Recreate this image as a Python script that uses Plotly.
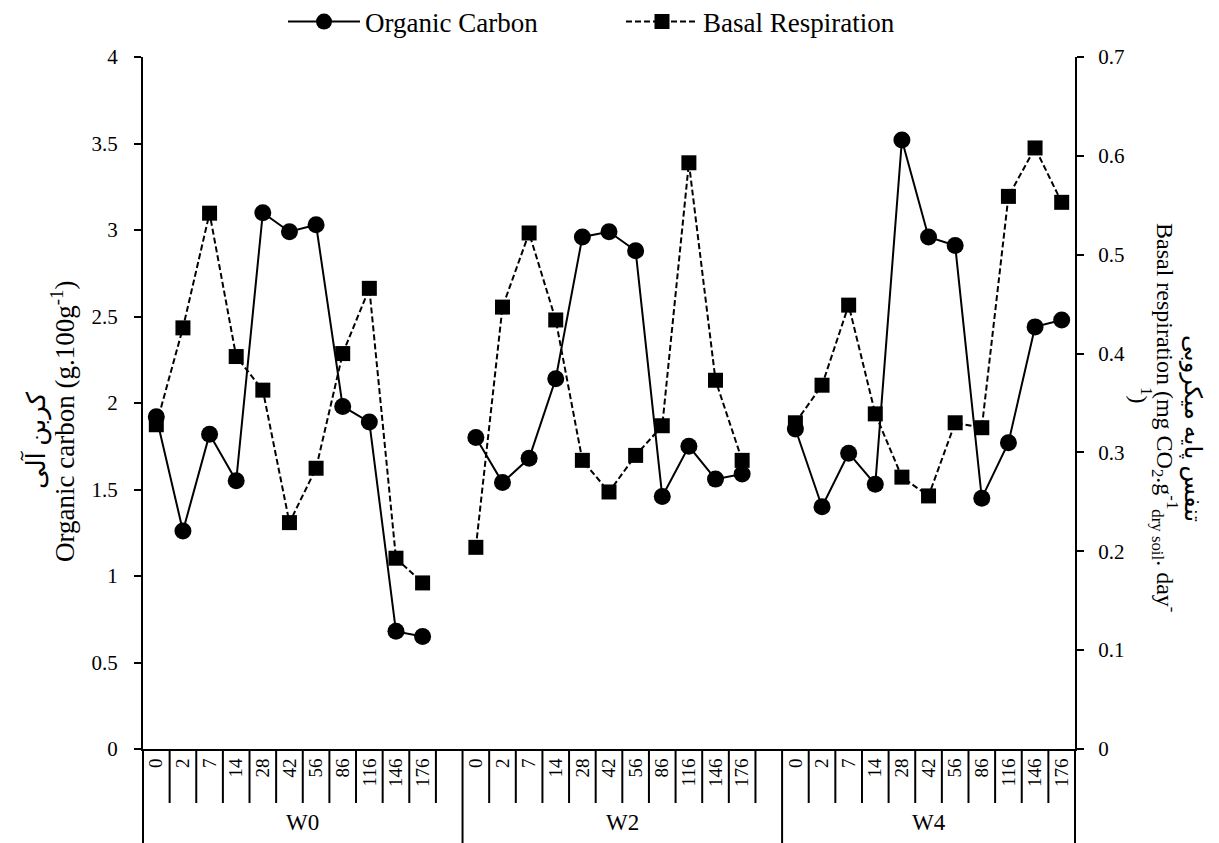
import plotly.graph_objects as go

# ---------------- data ----------------
groups = ["W0", "W2", "W4"]
days = ["0", "2", "7", "14", "28", "42", "56", "86", "116", "146", "176"]

organic_carbon = {
    "W0": [1.92, 1.26, 1.82, 1.55, 3.10, 2.99, 3.03, 1.98, 1.89, 0.68, 0.65],
    "W2": [1.80, 1.54, 1.68, 2.14, 2.96, 2.99, 2.88, 1.46, 1.75, 1.56, 1.59],
    "W4": [1.85, 1.40, 1.71, 1.53, 3.52, 2.96, 2.91, 1.45, 1.77, 2.44, 2.48],
}
basal_respiration = {
    "W0": [0.328, 0.426, 0.542, 0.397, 0.363, 0.229, 0.284, 0.400, 0.466, 0.193, 0.168],
    "W2": [0.204, 0.447, 0.522, 0.434, 0.292, 0.260, 0.297, 0.327, 0.593, 0.373, 0.292],
    "W4": [0.330, 0.368, 0.449, 0.339, 0.275, 0.256, 0.330, 0.325, 0.559, 0.608, 0.553],
}

# ------------- category positions (Excel-style with blank slot between groups) -------------
slot = len(days) + 1
xs, oc, br, tickvals, ticktext = [], [], [], [], []
for gi, g in enumerate(groups):
    for di, d in enumerate(days):
        pos = gi * slot + di
        xs.append(pos)
        oc.append(organic_carbon[g][di])
        br.append(basal_respiration[g][di])
        tickvals.append(pos)
        ticktext.append(d)
    if gi < len(groups) - 1:
        xs.append(gi * slot + len(days))
        oc.append(None)
        br.append(None)
n_slots = len(groups) * slot - 1
x_range = [-0.5, n_slots - 0.5]

FONT = "Liberation Serif, DejaVu Sans"
W, H = 1219, 843
ML, MR, MT, MB = 143, 144, 57, 94

fig = go.Figure()
fig.add_trace(go.Scatter(
    x=xs, y=oc, name="Organic Carbon", mode="lines+markers",
    line=dict(color="black", width=2),
    marker=dict(symbol="circle", size=17, color="black"),
    legend="legend", showlegend=True, connectgaps=False,
))
fig.add_trace(go.Scatter(
    x=xs, y=br, name="Basal Respiration", mode="lines+markers", yaxis="y2",
    line=dict(color="black", width=2, dash="6px,3px"),
    marker=dict(symbol="square", size=15, color="black"),
    legend="legend2", showlegend=True, connectgaps=False,
))

# ------------- divider lines under x axis -------------
plot_h = H - MT - MB
plot_w = W - ML - MR
minor_bottom = -(803 - 749) / plot_h
major_bottom = -(843 - 749) / plot_h
shapes = []
for gi in range(len(groups)):
    last = len(days) if gi < len(groups) - 1 else len(days) - 1
    for k in range(last):
        xpos = gi * slot + k + 0.5
        shapes.append(dict(type="line", xref="x", yref="paper", x0=xpos, x1=xpos,
                           y0=0, y1=minor_bottom, line=dict(color="black", width=2)))
    if gi > 0:
        xpos = gi * slot - 0.5
        shapes.append(dict(type="line", xref="x", yref="paper", x0=xpos, x1=xpos,
                           y0=0, y1=major_bottom, line=dict(color="black", width=2)))
for xp in (0, 1):
    shapes.append(dict(type="line", xref="paper", yref="paper", x0=xp, x1=xp,
                       y0=0, y1=major_bottom, line=dict(color="black", width=2)))


def px(xp):
    return (xp - ML) / plot_w


def py(yp):
    return (H - MB - yp) / plot_h


annotations = []
for gi, g in enumerate(groups):
    lo = gi * slot - 0.5
    hi = min(gi * slot + slot - 0.5, x_range[1])
    annotations.append(dict(text=g, x=(lo + hi) / 2, xref="x", y=py(822),
                            yref="paper", xanchor="center", yanchor="middle", showarrow=False,
                            font=dict(family=FONT, size=23, color="black")))

title_specs = [
    ("کربن آلی", 36, 440, -90, 26),
    ("Organic carbon (g.100g<sup>-1</sup>)", 63, 422, -90, 27),
    ("تنفس پایه میکروبی", 1193, 428, 90, 24),
    ("Basal respiration (mg CO<sub>2</sub>.g<sup>-1</sup><sub>dry soil</sub>. day<sup>-</sup>", 1165, 417, 90, 24),
    ("<sup>1</sup>)", 1141, 395, 90, 24),
]
for txt, xp, yp, ang, sz in title_specs:
    annotations.append(dict(text=txt, x=px(xp), y=py(yp), xref="paper", yref="paper",
                            xanchor="center", yanchor="middle", showarrow=False, textangle=ang,
                            font=dict(family=FONT, size=sz, color="black")))

axis_common = dict(showgrid=False, zeroline=False, showline=True, linecolor="black", linewidth=2,
                   ticks="outside", ticklen=7, tickwidth=2, tickcolor="black",
                   tickfont=dict(family=FONT, size=21, color="black"))

legend_common = dict(orientation="h", xref="container", yref="container", xanchor="left",
                     yanchor="middle", y=1 - 22 / H, itemwidth=72,
                     font=dict(family=FONT, size=27, color="black"), bgcolor="rgba(0,0,0,0)")

fig.update_layout(
    width=W, height=H,
    margin=dict(l=ML, r=MR, t=MT, b=MB, autoexpand=False),
    paper_bgcolor="white", plot_bgcolor="white",
    font=dict(family=FONT, color="black"),
    showlegend=True,
    xaxis=dict(range=x_range, tickvals=tickvals, ticktext=ticktext, tickangle=-90,
               showgrid=False, zeroline=False, showline=True, linecolor="black", linewidth=2,
               ticks="", tickfont=dict(family=FONT, size=19, color="black")),
    yaxis=dict(range=[0, 4], dtick=0.5, ticklabelstandoff=12, **axis_common),
    yaxis2=dict(range=[0, 0.7], dtick=0.1, overlaying="y", side="right", ticklabelstandoff=10,
                **axis_common),
    legend=dict(x=283 / W, **legend_common),
    legend2=dict(x=621 / W, **legend_common),
    shapes=shapes,
    annotations=annotations,
)

fig.write_html("out.html")
